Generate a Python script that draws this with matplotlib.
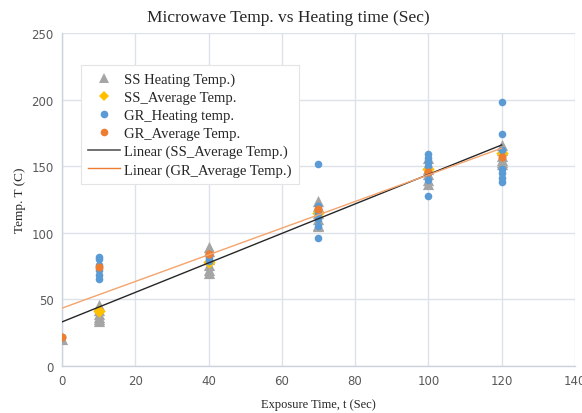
import numpy as np
import matplotlib
matplotlib.use("Agg")
import matplotlib.pyplot as plt
from matplotlib.lines import Line2D

# ---- data ----
ss_heat_x = [0] + [10]*6 + [40]*6 + [70]*6 + [100]*6 + [120]*6
ss_heat_y = [20,
             46, 42, 39, 37, 35, 34,
             89, 86, 80, 76, 72, 70,
             124, 120, 115, 110, 106, 105,
             156, 152, 148, 144, 140, 137,
             166, 162, 158, 155, 153, 152]
ss_avg_x = [10, 40, 70, 100, 120]
ss_avg_y = [41, 78, 115, 148, 160]
gr_heat_x = [0] + [10]*6 + [40]*4 + [70]*6 + [100]*7 + [120]*7
gr_heat_y = [22,
             82, 80, 76, 72, 68, 65,
             84, 82, 80, 79,
             152, 120, 115, 110, 105, 96,
             159, 156, 153, 150, 145, 140, 128,
             198, 174, 162, 148, 145, 141, 138]
gr_avg_x = [0, 10, 40, 70, 100, 120]
gr_avg_y = [22, 74, 84, 118, 146, 157]
trend_x = [0, 120]
x_ticks = [0, 20, 40, 60, 80, 100, 120, 140]
y_ticks = [0, 50, 100, 150, 200, 250]

fig = plt.figure(figsize=(5.82, 4.14), dpi=100)
ax = fig.add_axes([0.1065, 0.1135, 0.8814, 0.8043])

c_grid = "#dde2ea"
ax.set_xlim(0, 140)
ax.set_ylim(0, 250)
ax.set_xticks(x_ticks)
ax.set_yticks(y_ticks)
ax.grid(True, color=c_grid, linewidth=1.0)
ax.set_axisbelow(True)
for s in ["top", "right"]:
    ax.spines[s].set_visible(False)
for s in ["left", "bottom"]:
    ax.spines[s].set_color("#ccd2de")
    ax.spines[s].set_linewidth(1.0)
ax.tick_params(length=0, labelsize=8.5, labelcolor="#595959", pad=6)
for lab in ax.get_xticklabels() + ax.get_yticklabels():
    lab.set_family("DejaVu Sans")

ax.scatter(ss_heat_x, ss_heat_y, marker="^", s=65, color="#a5a5a5", zorder=3, linewidths=0)
ax.scatter(ss_avg_x, ss_avg_y, marker="D", s=40, color="#ffc000", zorder=4, linewidths=0)
ax.scatter(gr_heat_x, gr_heat_y, marker="o", s=30, color="#5b9bd5", zorder=5, linewidths=0)
ax.scatter(gr_avg_x, gr_avg_y, marker="o", s=34, color="#ed7d31", zorder=6, linewidths=0)

p_ss = np.polyfit(ss_avg_x, ss_avg_y, 1)
p_gr = np.polyfit(gr_avg_x, gr_avg_y, 1)
tx = np.array(trend_x, dtype=float)
ax.plot(tx, np.polyval(p_ss, tx), color="#262626", linewidth=1.0, zorder=7)
ax.plot(tx, np.polyval(p_gr, tx), color="#f4a46c", linewidth=1.0, zorder=7)

serif = "Liberation Serif"
fig.text(0.495, 0.957, "Microwave Temp. vs Heating time (Sec)", family=serif, fontsize=12.5,
         color="#262626", ha="center", va="center")
ax.set_xlabel("Exposure Time, t (Sec)", family=serif, fontsize=9, color="#262626", labelpad=8)
ax.set_ylabel("Temp. T (C)", family=serif, fontsize=9.5, color="#262626", labelpad=4)

handles = [
    Line2D([], [], marker="^", linestyle="none", markersize=7.5, color="#a5a5a5", markeredgewidth=0),
    Line2D([], [], marker="D", linestyle="none", markersize=5.5, color="#ffc000", markeredgewidth=0),
    Line2D([], [], marker="o", linestyle="none", markersize=5.5, color="#5b9bd5", markeredgewidth=0),
    Line2D([], [], marker="o", linestyle="none", markersize=5.5, color="#ed7d31", markeredgewidth=0),
    Line2D([], [], color="#595959", linewidth=1.2),
    Line2D([], [], color="#ed7d31", linewidth=1.0),
]
labels = ["SS Heating Temp.)", "SS_Average Temp.", "GR_Heating temp.", "GR_Average Temp.",
          "Linear (SS_Average Temp.)", "Linear (GR_Average Temp.)"]
leg = ax.legend(handles, labels, loc="upper left", bbox_to_anchor=(0.022, 0.925),
                prop={"family": serif, "size": 10.5}, frameon=True, fancybox=False,
                edgecolor="#e4e4e4", framealpha=1.0, handlelength=2.2,
                labelspacing=0.33, borderpad=0.5, handletextpad=0.3)
leg.get_frame().set_linewidth(0.8)
leg.set_zorder(10)
for t in leg.get_texts():
    t.set_color("#262626")

fig.savefig("out.png", dpi=100)
